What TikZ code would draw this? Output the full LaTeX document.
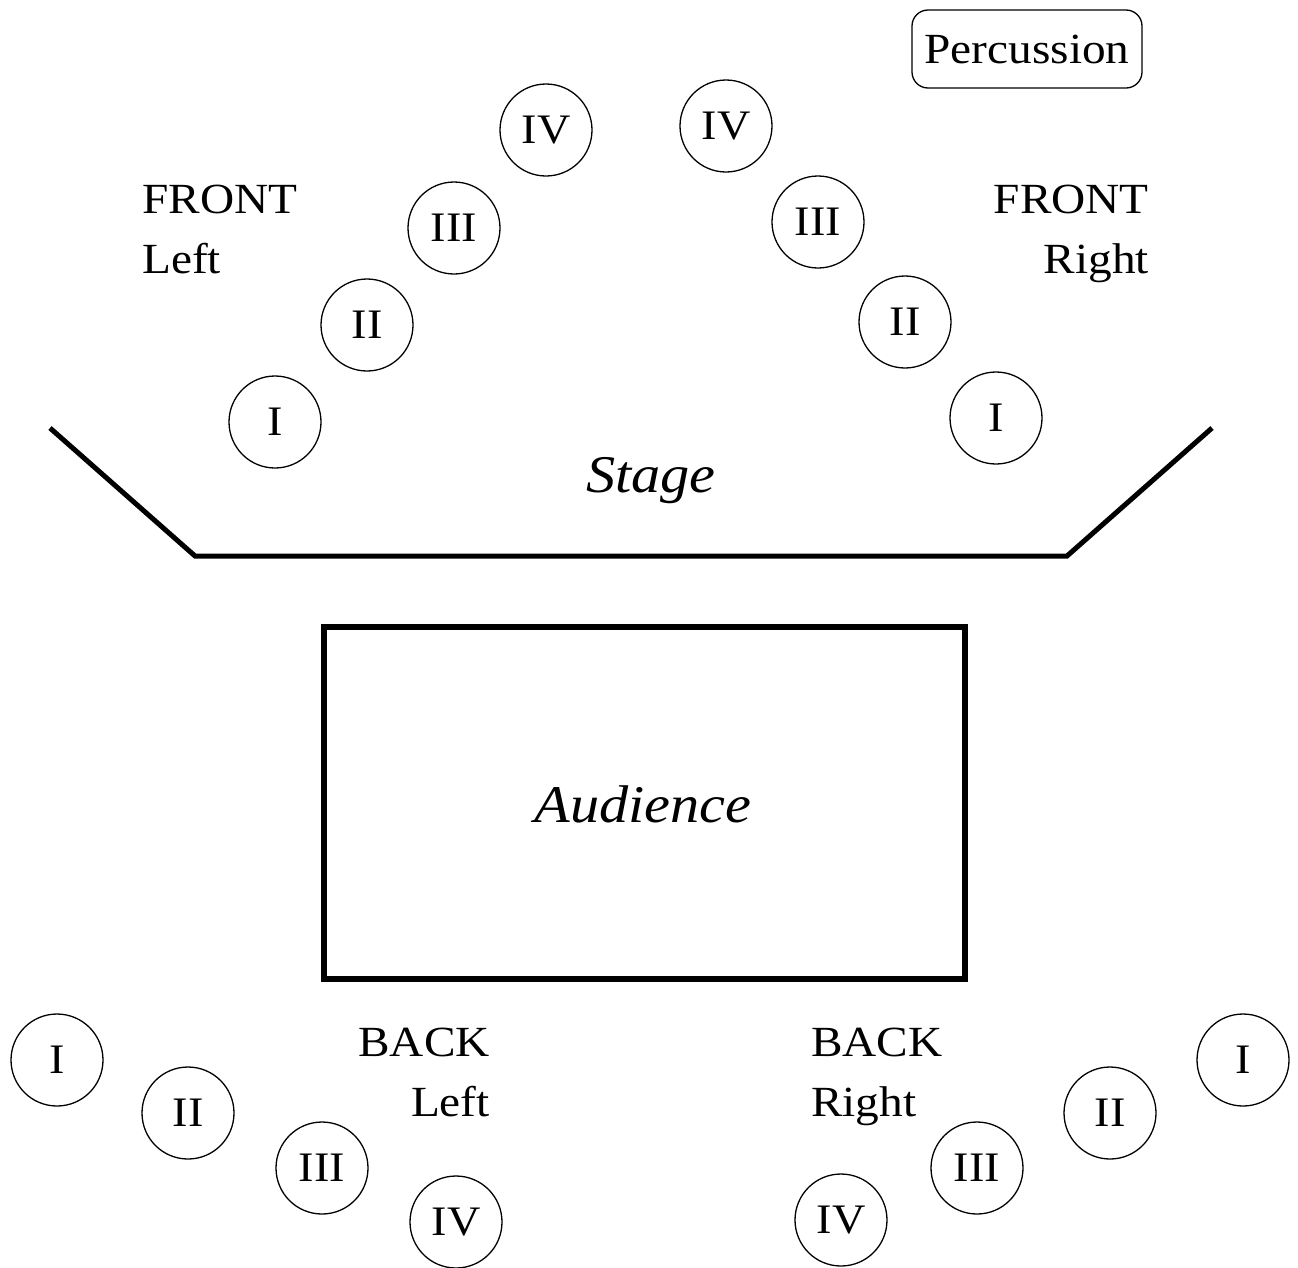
\documentclass[tikz,border=0pt]{standalone}
\usepackage{fontspec}
\setmainfont{Liberation Serif}[FakeStretch=1.1]
\begin{document}
\begin{tikzpicture}[x=1pt,y=-1pt,
  txt/.style={font=\fontsize{42}{50}\selectfont, inner sep=0pt},
  ital/.style={font=\fontsize{53}{60}\selectfont\itshape, inner sep=0pt},
  seat/.style={draw, circle, minimum size=92pt, inner sep=0pt, line width=1.3pt, font=\fontsize{42}{48}\selectfont},
  lbl/.style={font=\fontsize{43}{60}\selectfont, inner sep=0pt, align=left},
  lblr/.style={font=\fontsize{43}{60}\selectfont, inner sep=0pt, align=right},
  thick line/.style={line width=5pt},
]
\useasboundingbox (0,0) rectangle (1298,1267);
% percussion
\node[draw, rounded corners=16pt, line width=1.3pt, minimum width=230pt, minimum height=78pt, font=\fontsize{43}{50}\selectfont] (perc) at (1027,49) {Percussion};
% front left
\node[seat] (fl1) at (275,422) {I};
\node[seat] (fl2) at (367,325) {II};
\node[seat] (fl3) at (454,228) {III};
\node[seat] (fl4) at (546,130) {IV};
% front right
\node[seat] (fr4) at (726,126) {IV};
\node[seat] (fr3) at (818,222) {III};
\node[seat] (fr2) at (905,322) {II};
\node[seat] (fr1) at (996,418) {I};
% back left
\node[seat] (bl1) at (57,1060) {I};
\node[seat] (bl2) at (188,1113) {II};
\node[seat] (bl3) at (322,1168) {III};
\node[seat] (bl4) at (456,1222) {IV};
% back right
\node[seat] (br4) at (841,1220) {IV};
\node[seat] (br3) at (977,1168) {III};
\node[seat] (br2) at (1110,1113) {II};
\node[seat] (br1) at (1243,1060) {I};
% labels
\node[lbl, anchor=base west] (flA) at (142,213) {FRONT};
\node[lbl, anchor=base west] (flB) at (142,273) {Left};
\node[lblr, anchor=base east] (frA) at (1149,213) {FRONT};
\node[lblr, anchor=base east] (frB) at (1149,273) {Right};
\node[lblr, anchor=base east] (blA) at (490,1056) {BACK};
\node[lblr, anchor=base east] (blB) at (490,1116) {Left};
\node[lbl, anchor=base west] (brA) at (811,1056) {BACK};
\node[lbl, anchor=base west] (brB) at (811,1116) {Right};
% stage
\coordinate (s1) at (50,428);
\coordinate (s2) at (195,556);
\coordinate (s3) at (1067,556);
\coordinate (s4) at (1212,428);
\draw[thick line, line join=miter] (s1) -- (s2) -- (s3) -- (s4);
\node[ital, anchor=base] (stage) at (651,492) {Stage};
% audience
\node[draw, line width=6pt, minimum width=641pt, minimum height=352pt, inner sep=0pt] (aud) at (644,803) {};
\node[ital, anchor=base] (audt) at (643,822) {Audience};
\end{tikzpicture}
\end{document}
